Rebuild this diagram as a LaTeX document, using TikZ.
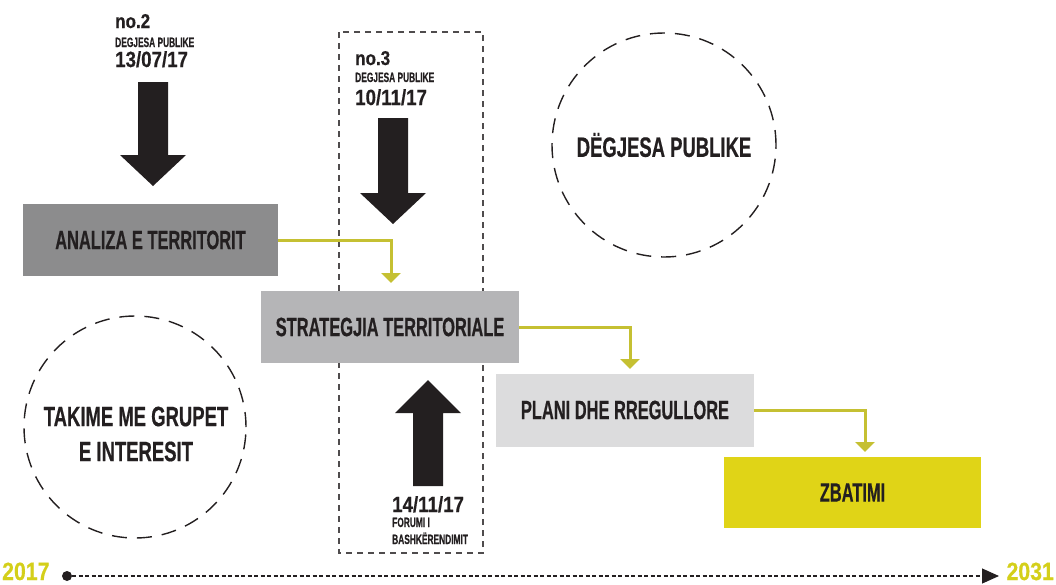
\documentclass[tikz,border=0pt]{standalone}
\usepackage{fontspec}
\setmainfont{Liberation Sans}[FakeStretch=0.62, FakeBold=0.5]
\newfontfamily\numfont{Liberation Sans}[FakeStretch=0.85, FakeBold=0.5]
\newfontfamily\circfont{Liberation Sans}[FakeStretch=0.66, FakeBold=0.5]
\usetikzlibrary{arrows.meta,calc}
\definecolor{ink}{HTML}{231F20}
\definecolor{olive}{HTML}{C5C032}
\definecolor{yel}{HTML}{E0D417}
\definecolor{yr}{HTML}{D4CF1A}
\definecolor{g1}{HTML}{8C8C8D}
\definecolor{g2}{HTML}{B5B5B7}
\definecolor{g3}{HTML}{DCDCDD}
\tikzset{
  stagebox/.style={rectangle, inner sep=0pt, text=ink, font=\fontsize{26.5}{28}\selectfont\bfseries},
  conn/.style={draw=olive, line width=3pt, -{Triangle[width=19pt,length=10pt]}},
  bigarrow/.style={fill=ink, draw=none},
  dcircle/.style={circle, draw=ink, line width=1.4pt, dash pattern=on 15pt off 10pt, inner sep=0pt},
  ctext/.style={text=ink, align=center, inner sep=0pt, font=\circfont\fontsize{28}{35}\selectfont\bfseries},
  lbl/.style={anchor=base west, inner sep=0pt, text=ink},
  small/.style={font=\fontsize{13.5}{14}\selectfont\bfseries},
  date/.style={font=\numfont\fontsize{22}{24}\selectfont\bfseries},
  nolbl/.style={font=\numfont\fontsize{20}{22}\selectfont\bfseries},
  year/.style={inner sep=0pt, anchor=base, text=yr, font=\numfont\fontsize{25}{25}\selectfont\bfseries}
}
\begin{document}
\begin{tikzpicture}[x=1pt,y=-1pt]
\useasboundingbox (0,0) rectangle (1056,584);
% dashed frame
\draw[draw=ink!80, line width=1.2pt, dash pattern=on 6pt off 5pt] (339,32) rectangle (483,553);
% circles
\node[dcircle, minimum size=224pt] (dp) at (664,145) {};
\node[ctext] (dpt) at (664,145) {DËGJESA PUBLIKE};
\node[dcircle, minimum size=222pt] (tk) at (135,427) {};
\node[ctext] (tkt) at (136,434) {TAKIME ME GRUPET\\E INTERESIT};
% boxes
\node[stagebox, fill=g1, minimum width=255pt, minimum height=72pt] (a) at (150.5,240) {ANALIZA E TERRITORIT};
\node[stagebox, fill=g2, minimum width=258pt, minimum height=72pt] (s) at (390,327) {STRATEGJIA TERRITORIALE};
\node[stagebox, fill=g3, minimum width=258pt, minimum height=73pt] (p) at (625,410) {PLANI DHE RREGULLORE};
\node[stagebox, fill=yel, minimum width=257pt, minimum height=71pt] (z) at (852.5,492.5) {ZBATIMI};
% connectors
\coordinate (c1) at (391,283);
\coordinate (c2) at (630,369);
\coordinate (c3) at (865,452);
\draw[conn] (a.east) -| (c1);
\draw[conn] (s.east) -| (c2);
\draw[conn] (p.east) -| (c3);
% big black arrows
\fill[bigarrow] (138,82) -- (168,82) -- (168,155) -- (186,155) -- (153,186) -- (120,155) -- (138,155) -- cycle;
\fill[bigarrow] (378,118) -- (408,118) -- (408,193) -- (426,193) -- (393,224) -- (360,193) -- (378,193) -- cycle;
\fill[bigarrow] (413,486) -- (443,486) -- (443,413) -- (461,413) -- (428,380) -- (395,413) -- (413,413) -- cycle;
% labels
\node[lbl, nolbl] (n2) at (115,28) {no.2};
\node[lbl, small] (d2) at (115,47) {DEGJESA PUBLIKE};
\node[lbl, date] (t2) at (115,67) {13/07/17};
\node[lbl, nolbl] (n3) at (355,65) {no.3};
\node[lbl, small] (d3) at (355,82) {DEGJESA PUBLIKE};
\node[lbl, date] (t3) at (355,105) {10/11/17};
\node[lbl, date] (t4) at (392,512) {14/11/17};
\node[lbl, small] (f4) at (392,527) {FORUMI I};
\node[lbl, small] (b4) at (392,544) {BASHKËRENDIMIT};
% timeline
\node[year, anchor=base west] (y1) at (2,580) {2017};
\node[year, anchor=base east] (y2) at (1054,580) {2031};
\node[circle, fill=ink, inner sep=0pt, minimum size=10pt] (dot) at (67,576) {};
\coordinate (tl) at (999,576);
\draw[ink, line width=1.1pt, dash pattern=on 4pt off 2.5pt, -{Triangle[width=15pt,length=17pt]}] (dot) -- (tl);
\end{tikzpicture}
\end{document}
